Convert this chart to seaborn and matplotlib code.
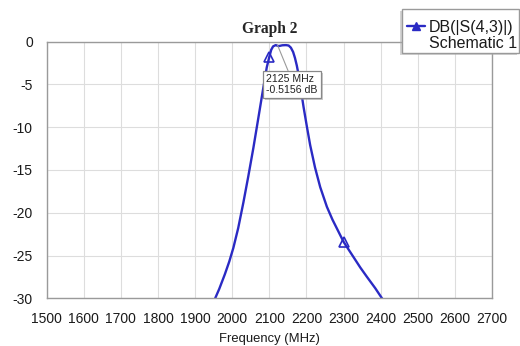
import matplotlib
matplotlib.use("Agg")
import matplotlib.pyplot as plt
import matplotlib.patheffects as pe
from matplotlib.lines import Line2D
from matplotlib.patches import Rectangle
import seaborn as sns
import pandas as pd

freq_mhz = [1950, 1965, 1980, 1992, 2003, 2016, 2030, 2043, 2057, 2070, 2081, 2088,
            2093, 2100, 2105, 2110, 2117, 2125, 2135, 2145, 2152, 2158, 2164, 2169,
            2174, 2178, 2185, 2192, 2201, 2210, 2223, 2237, 2255, 2270, 2285, 2300,
            2324, 2345, 2363, 2385, 2405]
s43_db = [-30.4, -28.9, -27.2, -25.7, -24.1, -21.8, -18.8, -15.8, -12.4, -9.0, -6.1, -4.3,
          -3.0, -1.75, -0.95, -0.55, -0.4, -0.5156, -0.42, -0.4, -0.45, -0.7, -1.2, -1.9,
          -2.8, -3.7, -5.6, -7.6, -9.9, -12.1, -14.7, -17.0, -19.3, -20.8, -22.1, -23.4,
          -25.0, -26.4, -27.5, -28.8, -30.1]
marker_freqs = [2100, 2300]
x_ticks = [1500, 1600, 1700, 1800, 1900, 2000, 2100, 2200, 2300, 2400, 2500, 2600, 2700]
y_ticks = [0, -5, -10, -15, -20, -25, -30]
legend_labels = ["DB(|S(4,3)|)", "Schematic 1"]
marker_text = "2125 MHz\n-0.5156 dB"

df = pd.DataFrame({"freq": freq_mhz, "db": s43_db})

sns.set_theme(style="white")
plt.rcParams["font.family"] = ["Liberation Sans", "DejaVu Sans"]

W, H = 520, 346
fig = plt.figure(figsize=(5.2, 3.46), dpi=100)
ax = fig.add_axes([0.0898, 0.1379, 0.9462 - 0.0898, 0.8795 - 0.1379])

blue = "#2a2ac4"
mark_idx = [freq_mhz.index(f) for f in marker_freqs]
sns.lineplot(data=df, x="freq", y="db", ax=ax, color=blue, linewidth=1.7,
             marker="^", markevery=mark_idx, markersize=7,
             markerfacecolor="none", markeredgecolor=blue, markeredgewidth=1.2,
             legend=False, sort=False)

ax.set_xlim(1500, 2700)
ax.set_ylim(-30, 0)
ax.set_xticks(x_ticks)
ax.set_yticks(y_ticks)
ax.set_xticklabels([str(v) for v in x_ticks])
ax.set_yticklabels([str(v) for v in y_ticks])
ax.tick_params(axis="both", length=0, labelsize=10, colors="#1a1a1a")
ax.tick_params(axis="x", pad=10)
ax.tick_params(axis="y", pad=10)
ax.grid(True, color="#dddddd", linewidth=0.8)
for s in ax.spines.values():
    s.set_color("#9a9a9a")
    s.set_linewidth(1.0)
ax.set_xlabel("Frequency (MHz)", fontsize=9.4, color="#1a1a1a", labelpad=5)
ax.set_ylabel("")
ax.set_title("Graph 2", fontsize=11.2, fontweight="bold",
             family=["Liberation Serif", "DejaVu Serif"], pad=6)

ann = ax.annotate(marker_text, xy=(2122, -0.4), xytext=(2092, -5.0),
                  fontsize=7.6, color="#222222", ha="left", va="center",
                  linespacing=1.05,
                  bbox=dict(boxstyle="square,pad=0.3", fc="white", ec="#888888", lw=0.9),
                  arrowprops=dict(arrowstyle="-", color="#9a9a9a", lw=0.8,
                                  shrinkA=0, shrinkB=0, relpos=(0.45, 1.0)),
                  zorder=5)
ann.get_bbox_patch().set_path_effects([
    pe.SimplePatchShadow(offset=(1.5, -1.5), shadow_rgbFace="#999999", alpha=0.5),
    pe.Normal()])

# legend frame
frame = Rectangle((402 / W, 1 - 53 / H), (519 - 402) / W, (53 - 9) / H,
                  transform=fig.transFigure, facecolor="white", edgecolor="#9a9a9a",
                  linewidth=1.0, zorder=1)
frame.set_path_effects([
    pe.SimplePatchShadow(offset=(-1.2, -1.2), shadow_rgbFace="#aaaaaa", alpha=0.5),
    pe.Normal()])
fig.patches.append(frame)

h1 = Line2D([], [], color=blue, linewidth=1.7, marker="^", markersize=6,
            markerfacecolor=blue, markeredgecolor=blue)
h2 = Line2D([], [], color="none", linewidth=0)
leg = fig.legend([h1, h2], legend_labels, loc="upper left",
                 bbox_to_anchor=(407 / W, 1 - 20 / H), fontsize=11.5,
                 frameon=False, handlelength=1.15, handletextpad=0.2,
                 borderpad=0, labelspacing=0.05, borderaxespad=0)
leg.set_zorder(3)
for t in leg.get_texts():
    t.set_color("#1a1a1a")

fig.savefig("out.png", dpi=100)
